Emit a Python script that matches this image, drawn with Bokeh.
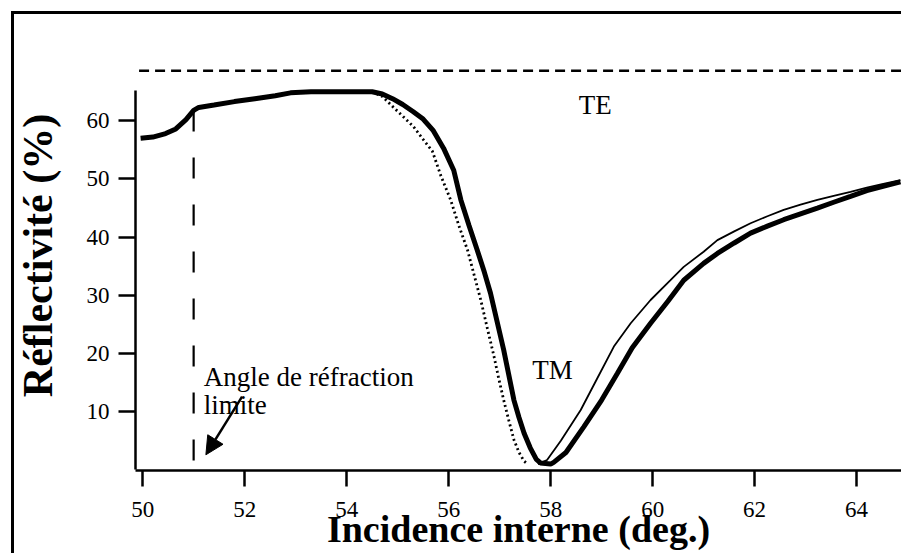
from bokeh.plotting import figure
from bokeh.models import Range1d, Label, Arrow, NormalHead, FixedTicker
from bokeh.embed import file_html
from bokeh.resources import INLINE

# ---- data ----
# measured TM reflectivity (thick curve)
thick_x = [49.96, 50.2, 50.45, 50.65, 50.85, 51.0, 51.1, 51.4, 51.8, 52.2, 52.6, 52.9,
           53.3, 53.8, 54.2, 54.5, 54.7, 54.9, 55.1, 55.3, 55.5, 55.7, 55.9, 56.1,
           56.24, 56.4, 56.56, 56.7, 56.82, 56.95, 57.08, 57.18, 57.28, 57.38, 57.48,
           57.6, 57.72, 57.8, 58.0, 58.06, 58.3, 58.65, 59.0, 59.31, 59.6, 59.96, 60.3,
           60.61, 61.0, 61.27, 61.6, 61.92, 62.25, 62.57, 62.9, 63.23, 63.55, 63.88,
           64.2, 64.5, 64.86]
thick_y = [57.0, 57.2, 57.8, 58.6, 60.2, 61.8, 62.3, 62.7, 63.3, 63.8, 64.3, 64.8,
           65.0, 65.0, 65.0, 65.0, 64.6, 63.8, 62.8, 61.6, 60.3, 58.3, 55.3, 51.5,
           46.4, 42.0, 37.8, 34.0, 30.4, 25.5, 20.6, 16.3, 12.0, 9.0, 6.3,
           3.8, 1.8, 1.2, 1.0, 1.3, 3.0, 7.4, 12.0, 16.6, 21.0, 25.2, 29.0,
           32.6, 35.5, 37.2, 39.0, 40.7, 41.9, 43.0, 44.0, 45.0, 46.0, 47.0,
           48.0, 48.7, 49.5]

# dotted curve (left flank of the resonance)
dot_x = [54.5, 54.7, 54.92, 55.1, 55.31, 55.5, 55.68, 55.85, 56.04, 56.2, 56.37, 56.5,
         56.63, 56.76, 56.89, 56.98, 57.08, 57.18, 57.28, 57.38, 57.48, 57.55]
dot_y = [65.0, 64.2, 62.3, 60.8, 59.0, 56.8, 54.8, 50.5, 46.4, 42.0, 37.8, 33.5,
         29.2, 24.3, 19.5, 15.8, 12.0, 8.5, 5.2, 3.0, 1.5, 1.0]

# thin curve (right flank of the resonance)
thin_x = [57.75, 57.93, 58.2, 58.59, 58.9, 59.24, 59.57, 59.96, 60.35, 60.61, 61.0,
          61.27, 61.6, 61.92, 62.25, 62.57, 62.9, 63.23, 63.55, 63.88, 64.2, 64.5, 64.86]
thin_y = [1.0, 1.7, 5.0, 10.3, 15.5, 21.2, 25.2, 29.2, 32.6, 34.9, 37.5,
          39.5, 41.0, 42.4, 43.6, 44.7, 45.6, 46.4, 47.1, 47.8, 48.5, 49.1, 49.8]

# TE reflectivity (dashed, constant)
te_x = [49.93, 64.9]
te_y = [68.6, 68.6]

# critical angle marker
critical_angle = 51.0
critical_y = [1.6, 62.0]

x_ticks = [50, 52, 54, 56, 58, 60, 62, 64]
y_ticks = [10, 20, 30, 40, 50, 60]

SERIF = "Liberation Serif"

p = figure(width=901, height=553, output_backend="svg", toolbar_location=None,
           x_range=Range1d(49.86, 64.88), y_range=Range1d(-0.1, 73.8),
           min_border_left=135, min_border_right=0, min_border_top=40,
           min_border_bottom=83)
p.outline_line_color = None
p.grid.visible = False
p.border_fill_color = None
p.background_fill_color = "white"
p.styles = {
    "background": "linear-gradient(#000,#000) 11px 11px / 3px calc(100% - 11px) no-repeat, "
                  "linear-gradient(#000,#000) 11px 11px / calc(100% - 11px) 3px no-repeat, #fff"
}

for ax in (p.xaxis[0], p.yaxis[0]):
    ax.axis_line_width = 2.5
    ax.axis_line_color = "black"
    ax.major_tick_line_width = 2.5
    ax.major_tick_line_color = "black"
    ax.major_tick_in = 0
    ax.minor_tick_out = 0
    ax.minor_tick_in = 0
    ax.major_label_text_font = SERIF
    ax.major_label_text_font_size = "23px"
    ax.major_label_text_color = "black"
    ax.axis_label_text_font = SERIF
    ax.axis_label_text_font_style = "bold"
    ax.axis_label_text_color = "black"

p.xaxis.ticker = FixedTicker(ticks=x_ticks)
p.yaxis.ticker = FixedTicker(ticks=y_ticks)
p.xaxis.major_tick_out = 16
p.yaxis.major_tick_out = 17
p.xaxis.major_label_standoff = 15
p.yaxis.major_label_standoff = 9
p.yaxis.bounds = (0, 65.2)
p.xaxis.axis_label = "Incidence interne (deg.)"
p.yaxis.axis_label = "Réflectivité (%)"
p.xaxis.axis_label_text_font_size = "38px"
p.yaxis.axis_label_text_font_size = "42px"
p.xaxis.axis_label_standoff = -12
p.yaxis.axis_label_standoff = 23

# curves
p.line(te_x, te_y, line_color="black", line_width=2.5, line_dash="10 6")
p.line(dot_x, dot_y, line_color="black", line_width=2.8, line_dash="2 3")
p.line(thin_x, thin_y, line_color="black", line_width=1.8)
p.line(thick_x, thick_y, line_color="black", line_width=5)
p.segment(x0=[critical_angle], y0=[critical_y[0]], x1=[critical_angle], y1=[critical_y[1]],
          line_color="black", line_width=2.2, line_dash="21 26")

# annotations
def lab(x, y, t):
    p.add_layout(Label(x=x, y=y, text=t, text_font=SERIF, text_font_size="27px",
                       text_color="black", text_baseline="alphabetic"))

lab(58.55, 62.7, "TE")
lab(57.64, 17.2, "TM")
lab(51.2, 16.0, "Angle de réfraction")
lab(51.2, 11.2, "limite")

p.add_layout(Arrow(x_start=51.95, y_start=12.6, x_end=51.24, y_end=2.6,
                   line_color="black", line_width=2.5,
                   end=NormalHead(size=18, fill_color="black", line_color="black")))

open("out.html", "w").write(file_html(p, INLINE))
